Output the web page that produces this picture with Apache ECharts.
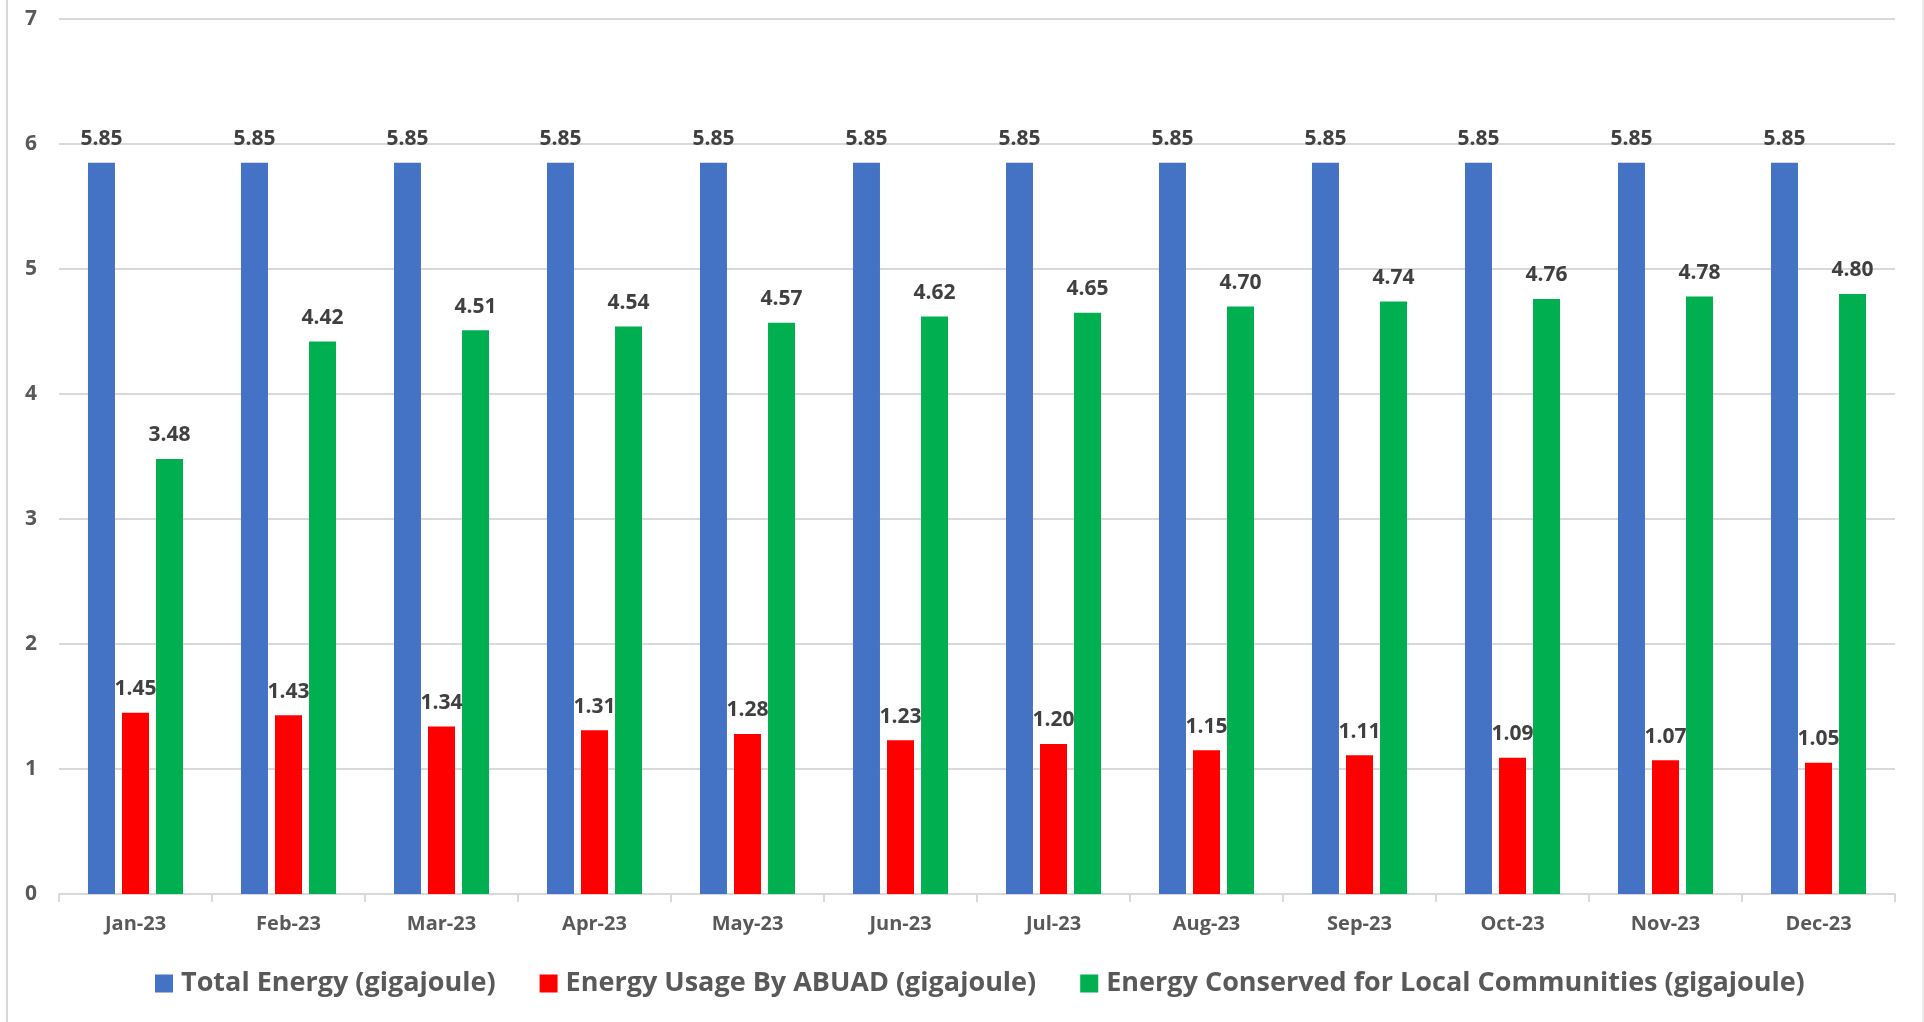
<!DOCTYPE html>
<html>
<head>
<meta charset="utf-8">
<script src="https://cdn.jsdelivr.net/npm/echarts@6/dist/echarts.min.js"></script>
<style>
  html, body { margin: 0; padding: 0; background: #fff; }
  #chart { width: 1924px; height: 1022px; }
</style>
</head>
<body>
<div id="chart"></div>
<script>
const months = ['Jan-23', 'Feb-23', 'Mar-23', 'Apr-23', 'May-23', 'Jun-23',
  'Jul-23', 'Aug-23', 'Sep-23', 'Oct-23', 'Nov-23', 'Dec-23'];
const totalEnergy = [5.85, 5.85, 5.85, 5.85, 5.85, 5.85, 5.85, 5.85, 5.85, 5.85, 5.85, 5.85];
const usageAbuad = [1.45, 1.43, 1.34, 1.31, 1.28, 1.23, 1.20, 1.15, 1.11, 1.09, 1.07, 1.05];
const conserved = [3.48, 4.42, 4.51, 4.54, 4.57, 4.62, 4.65, 4.70, 4.74, 4.76, 4.78, 4.80];

const FONT = 'Open Sans';

const chart = echarts.init(document.getElementById('chart'));

// shared label style for the values above bars
const valueLabel = {
  show: true,
  position: 'top',
  distance: 13,
  color: '#404040',
  fontFamily: FONT,
  fontWeight: 'bold',
  fontSize: 21,
  formatter: p => p.value.toFixed(2)
};

chart.setOption({
  animation: false,
  graphic: [
    { type: 'line', shape: { x1: 7, y1: 0, x2: 7, y2: 1022 }, style: { stroke: '#d9d9d9', lineWidth: 2 } },
    { type: 'line', shape: { x1: 1923, y1: 0, x2: 1923, y2: 1022 }, style: { stroke: '#d9d9d9', lineWidth: 1 } }
  ],
  grid: {
    left: 59,
    right: 29,
    top: 19,
    bottom: 128
  },
  legend: {
    bottom: 20,
    left: 150,
    itemWidth: 18,
    itemHeight: 18,
    itemGap: 44,
    icon: 'rect',
    textStyle: {
      color: '#595959',
      fontFamily: FONT,
      fontWeight: 'bold',
      fontSize: 27,
      padding: [0, 0, 0, 3]
    }
  },
  xAxis: {
    type: 'category',
    data: months,
    axisLine: { lineStyle: { color: '#d9d9d9', width: 2 } },
    axisTick: { show: true, length: 8, lineStyle: { color: '#d9d9d9', width: 2 } },
    axisLabel: {
      color: '#595959',
      fontFamily: FONT,
      fontWeight: 'bold',
      fontSize: 20,
      margin: 20
    }
  },
  yAxis: {
    type: 'value',
    min: 0,
    max: 7,
    interval: 1,
    axisLine: { show: false },
    axisTick: { show: false },
    splitLine: { lineStyle: { color: '#d9d9d9', width: 2 } },
    axisLabel: {
      color: '#595959',
      fontFamily: FONT,
      fontWeight: 'bold',
      fontSize: 21,
      margin: 22
    }
  },
  series: [
    {
      name: 'Total Energy (gigajoule)',
      type: 'bar',
      data: totalEnergy,
      barWidth: 27,
      barGap: '26%',
      itemStyle: { color: '#4472C4' },
      label: valueLabel
    },
    {
      name: 'Energy Usage By ABUAD (gigajoule)',
      type: 'bar',
      data: usageAbuad,
      barWidth: 27,
      barGap: '26%',
      itemStyle: { color: '#FF0000' },
      label: valueLabel
    },
    {
      name: 'Energy Conserved for Local Communities (gigajoule)',
      type: 'bar',
      data: conserved,
      barWidth: 27,
      barGap: '26%',
      itemStyle: { color: '#00B050' },
      label: valueLabel
    }
  ]
});
</script>
</body>
</html>
